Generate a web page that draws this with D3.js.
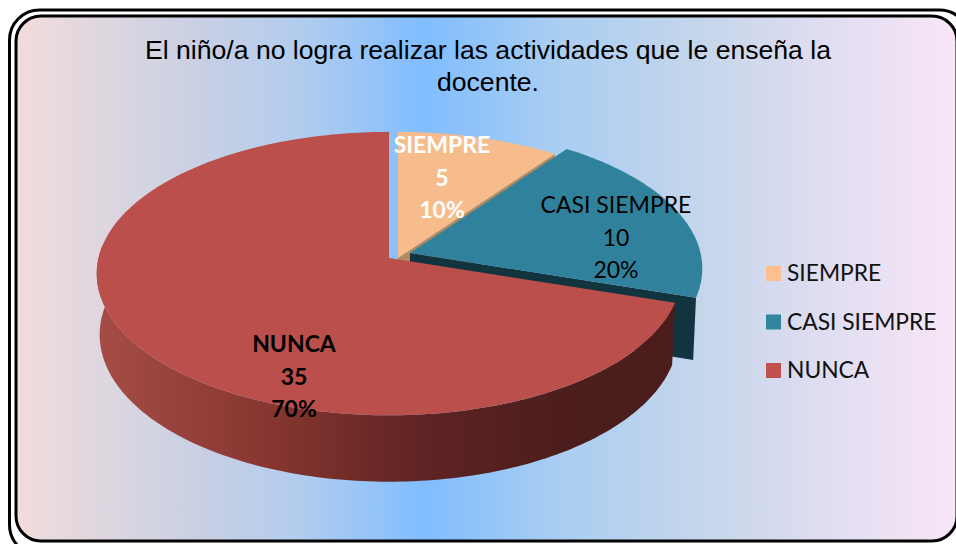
<!DOCTYPE html>
<html><head><meta charset="utf-8">
<script src="https://cdn.jsdelivr.net/npm/d3@7/dist/d3.min.js"></script>
<style>html,body{margin:0;padding:0;background:#fff;overflow:hidden}svg{display:block}</style>
</head><body><svg id="c" width="956" height="544"></svg>
<script>
const categories = ["SIEMPRE", "CASI SIEMPRE", "NUNCA"];
const values = [5, 10, 35];
const percents = ["10%", "20%", "70%"];
const titleLines = ["El niño/a no logra realizar las actividades que le enseña la", "docente."];
const topColors = ["#f6bc8c", "#30829c", "#bb4f4b"];
const legendColors = ["#fcbf8d", "#31859c", "#c0504d"];
const faceColors = ["#b0895f", "#12343f", "#4a1d1c"];
const apexes = [[398, 258], [410, 253], [389, 258]];
const labelPos = [[442, 145], [616, 205], [294, 344]];
const labelFill = ["#fff", "#000", "#000"];
const labelWeight = ["bold", "normal", "bold"];

const svg = d3.select("#c");
const defs = svg.append("defs");
const bg = defs.append("linearGradient").attr("id", "bg");
[[0, "#f2dcdb"], [0.1, "#dcd6e0"], [0.2, "#c8cfe4"], [0.3, "#b2cdee"], [0.435, "#80bdff"],
 [0.57, "#a8cdf2"], [0.73, "#c5d6eb"], [0.84, "#dcdcf0"], [1, "#f9e6f7"]].forEach(([o, c]) =>
  bg.append("stop").attr("offset", o).attr("stop-color", c));
const wall = defs.append("linearGradient").attr("id", "wall")
  .attr("gradientUnits", "userSpaceOnUse").attr("x1", 100).attr("x2", 680).attr("y1", 0).attr("y2", 0);
[[0, "#a64c47"], [0.3, "#85362f"], [0.55, "#5f2423"], [0.8, "#4c1d1c"], [1, "#4a1d1c"]].forEach(([o, c]) =>
  wall.append("stop").attr("offset", o).attr("stop-color", c));

// frame
svg.append("rect").attr("x", 9.5).attr("y", 10).attr("width", 960).attr("height", 545).attr("rx", 30)
  .attr("fill", "#fff").attr("stroke", "#000").attr("stroke-width", 3);
svg.append("rect").attr("x", 16).attr("y", 16).attr("width", 941).attr("height", 525).attr("rx", 25)
  .attr("fill", "url(#bg)").attr("stroke", "#000").attr("stroke-width", 3);

// title
svg.append("g").selectAll("text").data(titleLines).join("text")
  .attr("x", 488).attr("y", (d, i) => 59 + i * 32)
  .attr("text-anchor", "middle")
  .attr("font-family", "'Liberation Sans',Arial,sans-serif").attr("font-size", 26.6).attr("fill", "#000")
  .text(d => d);

// perspective pie
const RX = 290.5, RY = 140, K = 0.11, DEPTH = 60.5, SHRINK = 0.99;
const pie = d3.pie().sort(null).value(d => d)(values);
const s = a => 1 / (1 + K * Math.cos(a));
const pt = (apex, a) => [apex[0] + RX * Math.sin(a) * s(a), apex[1] - RY * Math.cos(a) * s(a)];
const low = (apex, a) => [apex[0] + RX * SHRINK * Math.sin(a) * s(a),
                          apex[1] - RY * SHRINK * Math.cos(a) * s(a) + DEPTH * s(a)];
const lowApex = apex => [apex[0], apex[1] + DEPTH];
const line = d3.line();
const arcAngles = (a0, a1) => { const n = Math.ceil((a1 - a0) / 0.02); return d3.range(n + 1).map(i => a0 + (a1 - a0) * i / n); };

const g = svg.append("g");
pie.forEach((p, i) => {
  const ap = apexes[i], as = arcAngles(p.startAngle, p.endAngle);
  if (i < 2) {
    g.append("path").attr("fill", faceColors[i]).attr("d",
      line([ap, pt(ap, p.endAngle), low(ap, p.endAngle), lowApex(ap)]) + "Z");
  }
  if (i === 2) {
    const front = as.filter(a => Math.cos(a) < 0.1);
    g.append("path").attr("fill", "url(#wall)").attr("d",
      line(front.map(a => pt(ap, a)).concat(front.slice().reverse().map(a => low(ap, a)))) + "Z");
  }
  g.append("path").attr("fill", topColors[i]).attr("d",
    line([ap].concat(as.map(a => pt(ap, a)))) + "Z");
});

// data labels
const lab = svg.append("g").attr("font-family", "Lato,'Noto Sans',sans-serif").attr("font-size", 23).attr("text-anchor", "middle");
categories.forEach((c, i) => {
  [c, String(values[i]), percents[i]].forEach((t, j) => {
    lab.append("text").attr("x", labelPos[i][0]).attr("y", labelPos[i][1] + j * 32.5)
      .attr("dy", "0.35em").attr("fill", labelFill[i]).attr("font-weight", labelWeight[i]).text(t);
  });
});

// legend
const ly = d3.scalePoint().domain(categories).range([273.5, 370.5]);
const leg = svg.append("g").selectAll("g").data(categories).join("g")
  .attr("transform", d => `translate(766,${ly(d)})`);
leg.append("rect").attr("y", -7.5).attr("width", 15).attr("height", 15).attr("fill", (d, i) => legendColors[i]);
leg.append("text").attr("x", 21).attr("dy", "0.35em").attr("font-family", "Lato,'Noto Sans',sans-serif")
  .attr("font-size", 22.8).attr("fill", "#111").text(d => d);
</script></body></html>
